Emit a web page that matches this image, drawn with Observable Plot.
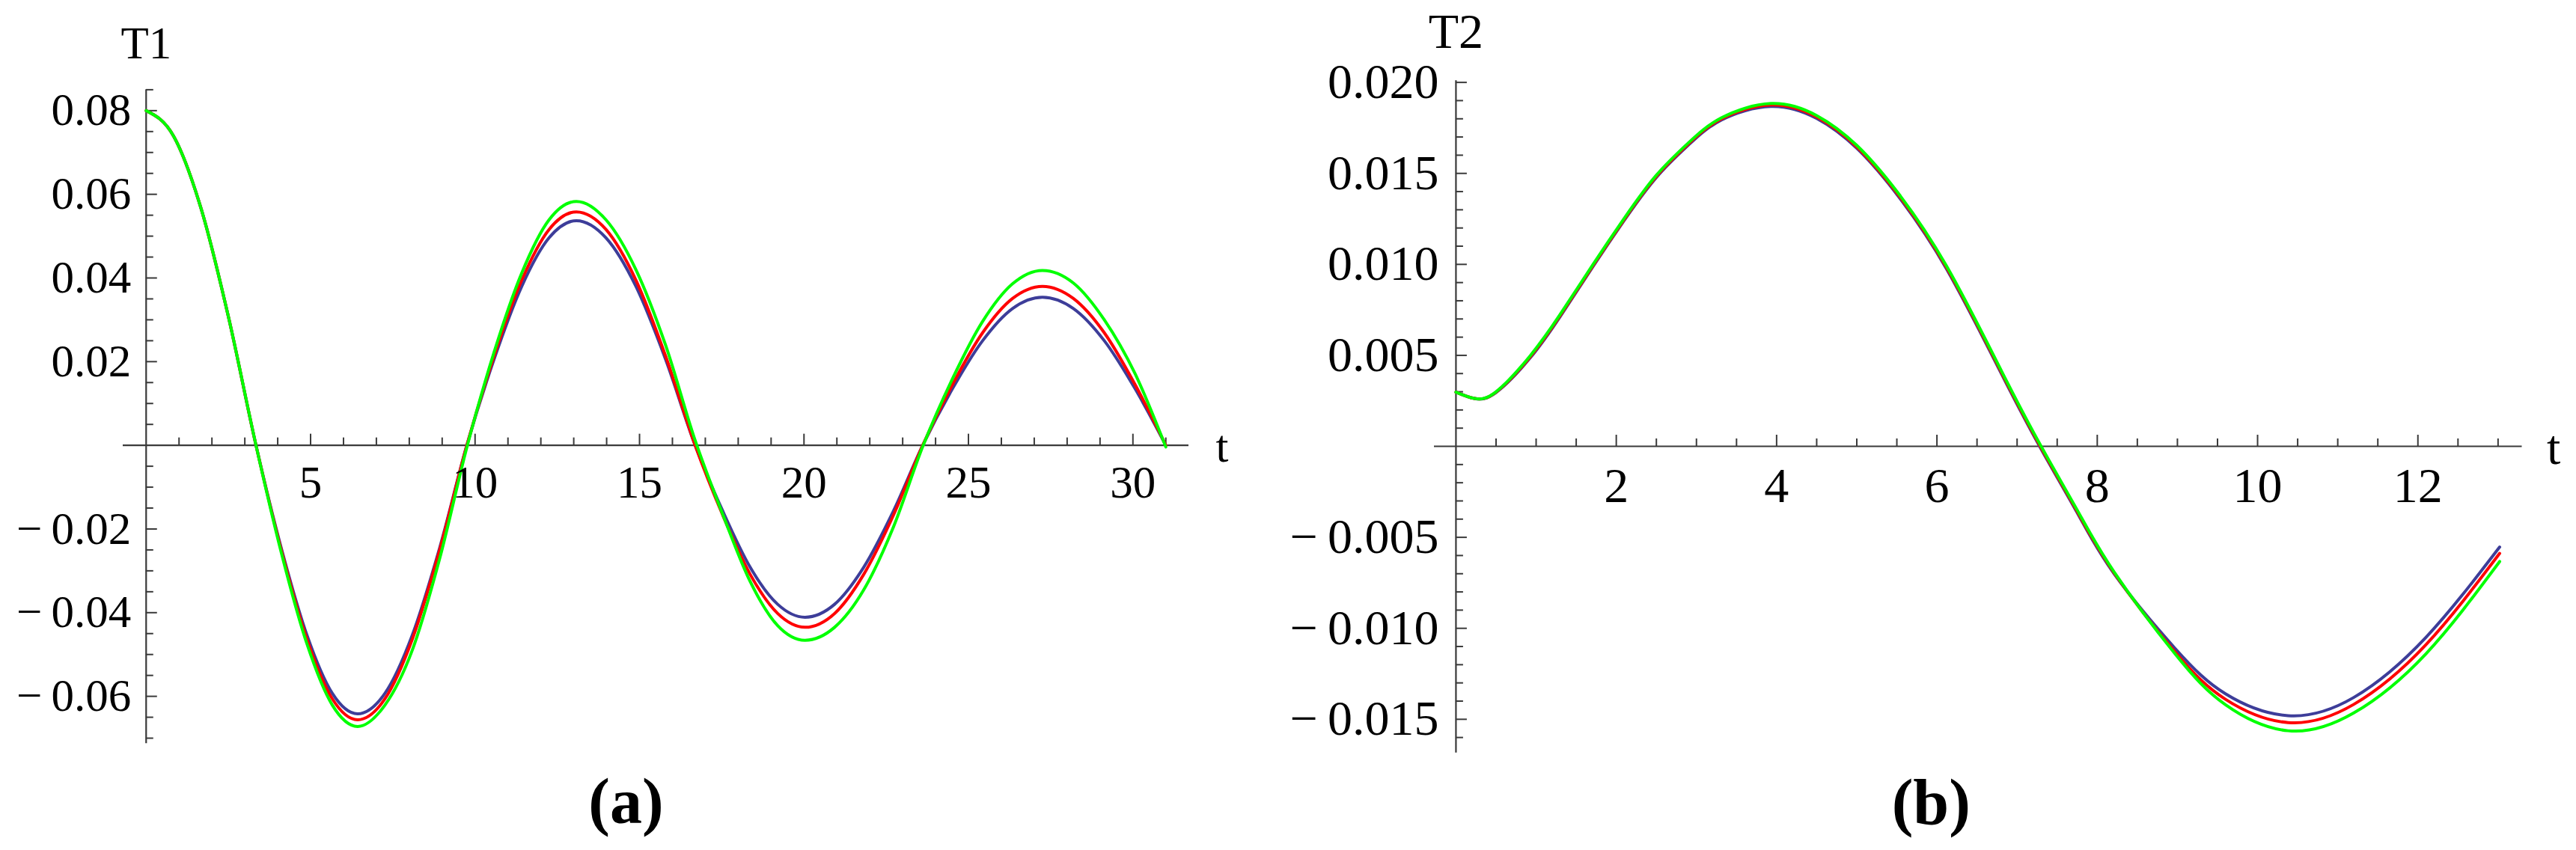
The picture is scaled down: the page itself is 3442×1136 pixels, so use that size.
<!DOCTYPE html>
<html><head><meta charset="utf-8">
<script src="https://cdn.jsdelivr.net/npm/d3@7"></script>
<script src="https://cdn.jsdelivr.net/npm/@observablehq/plot@0.6"></script>
<style>
html,body{margin:0;padding:0;background:#fff;}
#wrap{position:relative;width:3442px;height:1136px;overflow:hidden;background:#fff;}
#wrap svg{position:absolute;top:0;overflow:visible;}
</style></head><body><div id="wrap"></div>
<script>
// ---------- Panel (a): T1 ----------
const tA = [0, 0.835, 1.67, 2.505, 3.34, 4.11, 4.89, 5.66, 6.43, 7.26, 8.09, 8.92, 9.75,
  10.58, 11.42, 12.25, 13.08, 13.98, 14.89, 15.79, 16.69, 17.53, 18.36, 19.20, 20.03,
  20.93, 21.82, 22.72, 23.61, 24.52, 25.43, 26.34, 27.25, 28.19, 29.13, 30.06, 31.0];
const greenA = [0.0800, 0.0739, 0.0566, 0.0306, 0.0000,
  -0.0257, -0.0475, -0.0621, -0.0672,
  -0.0621, -0.0490, -0.0272, -0.0005,
  0.0223, 0.0412, 0.0539, 0.0583,
  0.0539, 0.0420, 0.0240, 0.0012,
  -0.0165, -0.0325, -0.0431, -0.0466,
  -0.0435, -0.0345, -0.0195, -0.0003,
  0.0160, 0.0296, 0.0386, 0.0418,
  0.0388, 0.0300, 0.0172, -0.0004];
const redA = [0.0800, 0.0739, 0.0566, 0.0306, 0.0000,
  -0.0251, -0.0464, -0.0606, -0.0656,
  -0.0606, -0.0464, -0.0251, 0.0000,
  0.0214, 0.0395, 0.0516, 0.0558,
  0.0516, 0.0395, 0.0214, 0.0000,
  -0.0167, -0.0308, -0.0402, -0.0435,
  -0.0402, -0.0308, -0.0167, 0.0000,
  0.0146, 0.0269, 0.0351, 0.0380,
  0.0351, 0.0269, 0.0146, 0.0000];
const blueA = [0.0800, 0.0739, 0.0566, 0.0306, 0.0000,
  -0.0246, -0.0454, -0.0593, -0.0642,
  -0.0593, -0.0454, -0.0246, 0.0000,
  0.0206, 0.0380, 0.0496, 0.0537,
  0.0496, 0.0380, 0.0206, 0.0000,
  -0.0157, -0.0291, -0.0380, -0.0411,
  -0.0380, -0.0291, -0.0157, 0.0000,
  0.0136, 0.0250, 0.0327, 0.0354,
  0.0327, 0.0250, 0.0136, 0.0000];
const xMajorA = [5, 10, 15, 20, 25, 30];
const xLabelsA = ["5", "10", "15", "20", "25", "30"];
const yMajorA = [0.08, 0.06, 0.04, 0.02, -0.02, -0.04, -0.06];
const yLabelsA = ["0.08", "0.06", "0.04", "0.02", "\u2212\u20090.02", "\u2212\u20090.04", "\u2212\u20090.06"];

// ---------- Panel (b): T2 ----------
const tB = [0, 0.23, 0.5, 0.93, 1.3, 1.71, 2.1, 2.5, 2.9, 3.31, 3.93, 4.5, 5.0, 5.5,
  6.12, 6.81, 7.30, 7.75, 8.21, 8.97, 9.6, 10.38, 11.2, 12.1, 13.02];
const greenB = [0.00298, 0.00263, 0.00300, 0.00500, 0.00725, 0.01000, 0.01254, 0.01490, 0.01668,
  0.01805, 0.01884, 0.01818, 0.01654, 0.01401, 0.00991, 0.00410, 0.00000, -0.00350, -0.00690,
  -0.01140, -0.01420, -0.01563, -0.01465, -0.01140, -0.00633];
const redB = [0.00298, 0.00263, 0.00298, 0.00494, 0.00719, 0.00994, 0.01248, 0.01484, 0.01662,
  0.01799, 0.01876, 0.01810, 0.01646, 0.01393, 0.00983, 0.00402, -0.00008, -0.00358, -0.00695,
  -0.01130, -0.01390, -0.01518, -0.01418, -0.01090, -0.00588];
const blueB = [0.00298, 0.00263, 0.00296, 0.00488, 0.00713, 0.00988, 0.01242, 0.01478, 0.01656,
  0.01793, 0.01868, 0.01802, 0.01638, 0.01385, 0.00975, 0.00394, -0.00015, -0.00365, -0.00700,
  -0.01110, -0.01360, -0.01480, -0.01380, -0.01050, -0.00553];
const xMajorB = [2, 4, 6, 8, 10, 12];
const xLabelsB = ["2", "4", "6", "8", "10", "12"];
const yMajorB = [0.020, 0.015, 0.010, 0.005, -0.005, -0.010, -0.015];
const yLabelsB = ["0.020", "0.015", "0.010", "0.005", "\u2212\u20090.005", "\u2212\u20090.010", "\u2212\u20090.015"];

const COLORS = {blue: "#3d3d99", red: "#ff0000", green: "#00ff00"};
const AXIS = "#3a3a3a";

function panel(o) {
  const W = o.width, H = 1136;
  const ml = o.x0px - o.left, mr = o.left + W - o.x1px;
  const mt = o.y1px, mb = H - o.y0px;
  const pxX = (o.x1px - o.x0px) / (o.xd[1] - o.xd[0]);
  const pxY = (o.y0px - o.y1px) / (o.yd[1] - o.yd[0]);
  const majLen = 15, minLen = 10;
  const marks = [
    Plot.ruleY([0], {stroke: AXIS, strokeWidth: 2.2}),
    Plot.ruleX([0], {stroke: AXIS, strokeWidth: 2.2}),
    Plot.ruleX(o.xMinor, {x: d => d, y1: 0, y2: minLen / pxY, stroke: AXIS, strokeWidth: 2}),
    Plot.ruleX(o.xMajor, {x: d => d, y1: 0, y2: majLen / pxY, stroke: AXIS, strokeWidth: 2}),
    Plot.ruleY(o.yMinor, {y: d => d, x1: 0, x2: minLen / pxX, stroke: AXIS, strokeWidth: 2}),
    Plot.ruleY(o.yMajor, {y: d => d, x1: 0, x2: majLen / pxX, stroke: AXIS, strokeWidth: 2}),
    ...o.series.map(s => Plot.line(s.v.map((v, i) => ({t: o.t[i], v})),
      {x: "t", y: "v", stroke: s.color, strokeWidth: 4, curve: o.curve})),
    Plot.text(o.xMajor, {x: d => d, y: 0, text: (d, i) => o.xLabels[i], dy: o.xdy, fontSize: o.fs, fill: "#000"}),
    Plot.text(o.yMajor, {x: 0, y: d => d, text: (d, i) => o.yLabels[i], textAnchor: "end", dx: o.ydx, fontSize: o.fs, fill: "#000"}),
    Plot.text([o.yName], {x: 0, y: o.yd[1], text: d => d, dy: o.nameDy, fontSize: o.fs, fill: "#000"}),
    Plot.text(["t"], {x: o.xd[1], y: 0, text: d => d, textAnchor: "start", dx: o.tdx, dy: 2, fontSize: o.fs, fill: "#000"}),
    Plot.text([o.caption], {frameAnchor: "bottom", lineAnchor: "middle", textAnchor: "middle", text: d => d, dx: o.capDx, dy: o.capDy, fontSize: 86, fontWeight: "bold", fill: "#000"})
  ];
  const svg = Plot.plot({
    width: W, height: H,
    marginLeft: ml, marginRight: mr, marginTop: mt, marginBottom: mb,
    x: {domain: o.xd, axis: null},
    y: {domain: o.yd, axis: null},
    style: {fontFamily: "'Liberation Serif', 'Times New Roman', serif", color: "#000", background: "transparent", overflow: "visible"},
    marks
  });
  svg.style.left = o.left + "px";
  return svg;
}

const wrap = document.getElementById("wrap");

wrap.appendChild(panel({
  left: 0, width: 1720,
  x0px: 164, x1px: 1588, xd: [-0.7, 31.7],
  y0px: 993.3, y1px: 119.4, yd: [-0.0713, 0.0850],
  t: tA, curve: "monotone-x",
  series: [{v: blueA, color: COLORS.blue}, {v: redA, color: COLORS.red}, {v: greenA, color: COLORS.green}],
  xMajor: xMajorA, xLabels: xLabelsA,
  xMinor: d3.range(1, 32).filter(k => k % 5 !== 0),
  yMajor: yMajorA, yLabels: yLabelsA,
  yMinor: d3.range(-14, 18).filter(k => k % 4 !== 0).map(k => k * 0.005),
  fs: 61, xdy: 50, ydx: -20, tdx: 36, yName: "T1", nameDy: -61,
  caption: "(a)", capDx: -40, capDy: 79
}));

wrap.appendChild(panel({
  left: 1720, width: 1722,
  x0px: 1916, x1px: 3369.5, xd: [-0.27, 13.3],
  y0px: 1005.8, y1px: 107.2, yd: [-0.01685, 0.0201],
  t: tB, curve: "natural",
  series: [{v: blueB, color: COLORS.blue}, {v: redB, color: COLORS.red}, {v: greenB, color: COLORS.green}],
  xMajor: xMajorB, xLabels: xLabelsB,
  xMinor: d3.range(1, 27).filter(k => k % 4 !== 0).map(k => k * 0.5),
  yMajor: yMajorB, yLabels: yLabelsB,
  yMinor: d3.range(-16, 21).filter(k => k % 5 !== 0).map(k => k * 0.001),
  fs: 66, xdy: 53, ydx: -23, tdx: 33, yName: "T2", nameDy: -65,
  caption: "(b)", capDx: -63, capDy: 67
}));
</script></body></html>
